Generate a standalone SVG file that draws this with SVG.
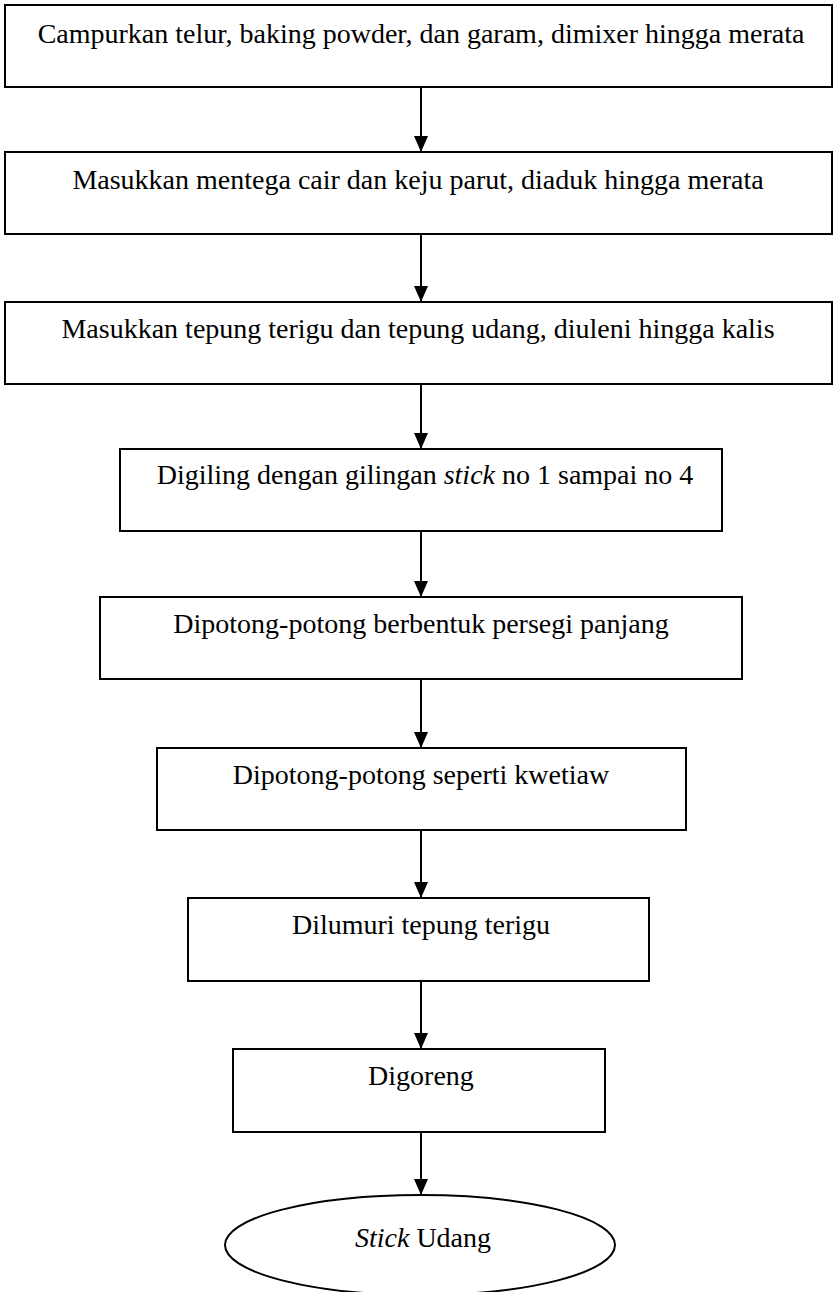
<svg xmlns="http://www.w3.org/2000/svg" width="834" height="1292" viewBox="0 0 834 1292">
  <style>
    .box { fill: #ffffff; stroke: #000000; stroke-width: 2; }
    .lbl { font-family: "Liberation Serif", "Times New Roman", serif; font-size: 28px; fill: #000000; text-anchor: middle; }
    .it { font-style: italic; }
    .flow { stroke: #000000; stroke-width: 2; fill: none; marker-end: url(#head); }
  </style>
  <defs>
    <marker id="head" markerUnits="userSpaceOnUse" markerWidth="16" markerHeight="16" refX="16" refY="7" orient="auto">
      <path d="M0,0 L16,7 L0,14 Z" fill="#000000"/>
    </marker>
  </defs>
  <rect width="834" height="1292" fill="#ffffff"/>

  <!-- process steps, top to bottom -->
  <g id="step1">
    <rect class="box" x="5" y="5" width="827" height="82"/>
    <text class="lbl" x="421" y="43">Campurkan telur, baking powder, dan garam, dimixer hingga merata</text>
  </g>
  <g id="step2">
    <rect class="box" x="5" y="152" width="827" height="82"/>
    <text class="lbl" x="418" y="189">Masukkan mentega cair dan keju parut, diaduk hingga merata</text>
  </g>
  <g id="step3">
    <rect class="box" x="5" y="302" width="827" height="82"/>
    <text class="lbl" x="418" y="338">Masukkan tepung terigu dan tepung udang, diuleni hingga kalis</text>
  </g>
  <g id="step4">
    <rect class="box" x="120" y="449" width="602" height="82"/>
    <text class="lbl" x="425" y="484">Digiling dengan gilingan <tspan class="it">stick</tspan> no 1 sampai no 4</text>
  </g>
  <g id="step5">
    <rect class="box" x="100" y="597" width="642" height="82"/>
    <text class="lbl" x="421" y="633">Dipotong-potong berbentuk persegi panjang</text>
  </g>
  <g id="step6">
    <rect class="box" x="157" y="748" width="529" height="82"/>
    <text class="lbl" x="421" y="784">Dipotong-potong seperti kwetiaw</text>
  </g>
  <g id="step7">
    <rect class="box" x="188" y="898" width="461" height="83"/>
    <text class="lbl" x="421" y="934">Dilumuri tepung terigu</text>
  </g>
  <g id="step8">
    <rect class="box" x="233" y="1049" width="372" height="83"/>
    <text class="lbl" x="421" y="1085">Digoreng</text>
  </g>

  <!-- end terminal -->
  <g id="result">
    <ellipse class="box" cx="420" cy="1245" rx="195" ry="50"/>
    <text class="lbl" x="423" y="1247"><tspan class="it">Stick</tspan> Udang</text>
  </g>

  <g id="connectors">
    <line class="flow" x1="421" y1="87" x2="421" y2="152"/>
    <line class="flow" x1="421" y1="234" x2="421" y2="302"/>
    <line class="flow" x1="421" y1="384" x2="421" y2="449"/>
    <line class="flow" x1="421" y1="531" x2="421" y2="597"/>
    <line class="flow" x1="421" y1="679" x2="421" y2="748"/>
    <line class="flow" x1="421" y1="830" x2="421" y2="898"/>
    <line class="flow" x1="421" y1="981" x2="421" y2="1049"/>
    <line class="flow" x1="421" y1="1132" x2="421" y2="1195"/>
  </g>
</svg>
